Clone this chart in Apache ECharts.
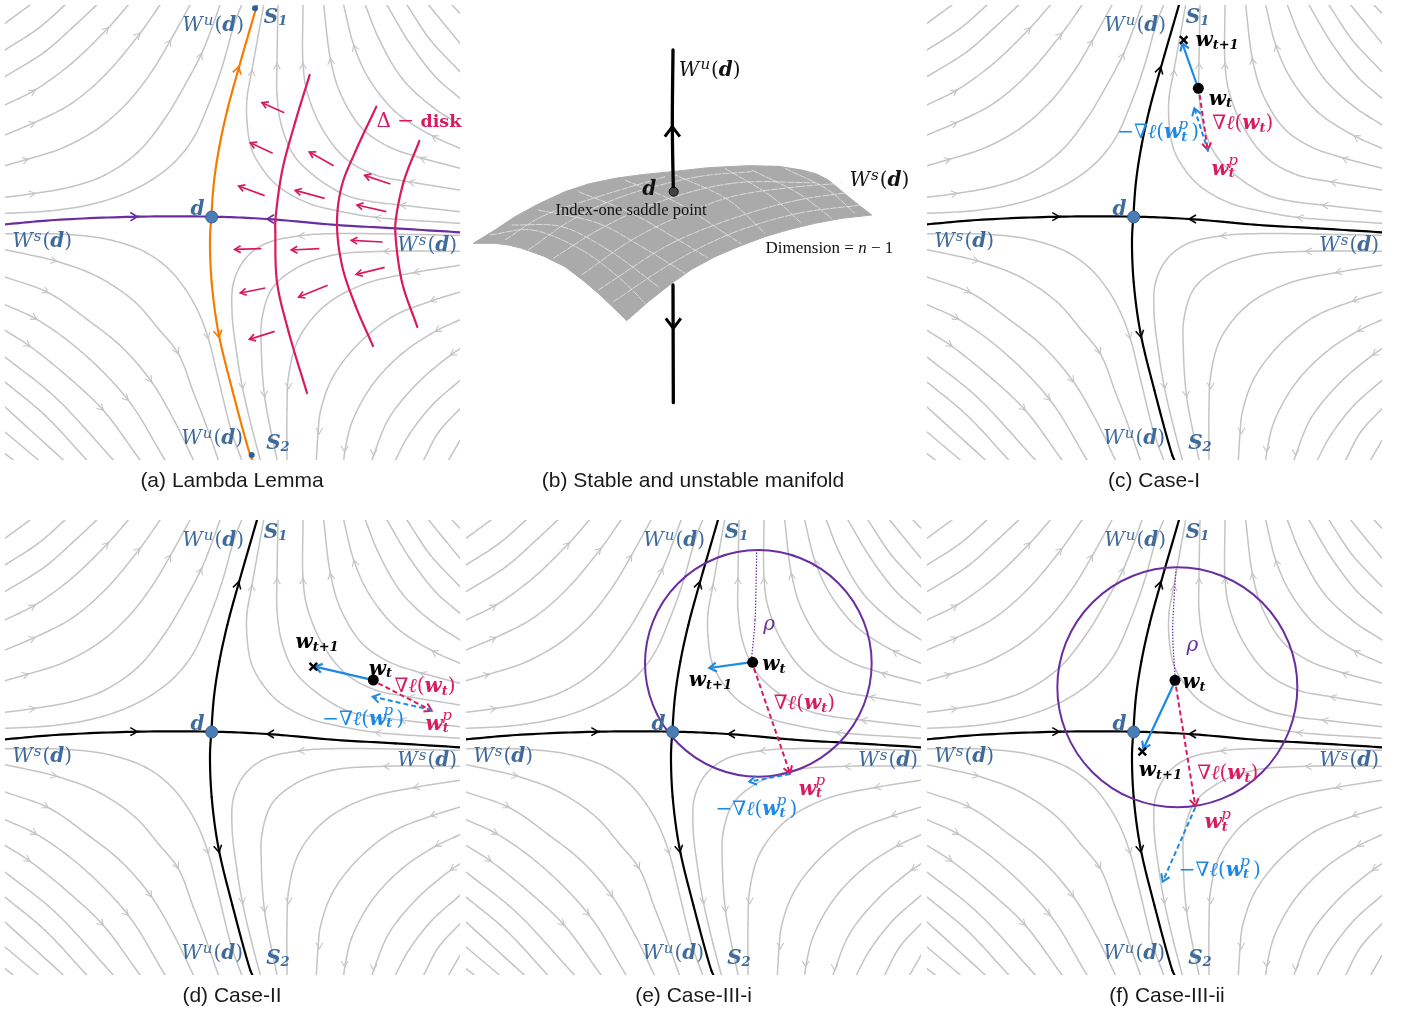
<!DOCTYPE html>
<html><head><meta charset="utf-8">
<style>html,body{margin:0;padding:0;background:#fff}#c{width:1405px;height:1013px}</style>
<script src="https://cdn.jsdelivr.net/npm/echarts@6/dist/echarts.min.js"></script>
</head><body><div id="c"></div>
<script>
// ---------- phase-portrait data (panel units, 3 per pixel) ----------
const upperLeftStreams = [
 [[15,70],[90,15]],
 [[15,150],[115,85],[195,15]],
 [[15,230],[135,155],[215,85],[290,15]],
 [[15,315],[105,270],[215,190],[325,83],[385,15]],
 [[15,405],[105,367],[215,310],[315,225],[420,100],[480,15]],
 [[15,497],[85,477],[185,445],[295,385],[385,305],[455,215],[512,120],[570,15]],
 [[15,592],[105,580],[215,560],[315,525],[415,455],[495,355],[555,255],[605,160],[635,85],[660,15]],
 [[15,640],[145,633],[265,615],[365,585],[455,540],[525,485],[580,415],[625,315],[665,205],[705,65],[725,15]]
];
const upperRightStreams = [
 [[791,15],[756,210],[741,295],[741,365],[754,445],[786,505],[836,560],[926,610],[1026,635],[1126,652],[1380,670]],
 [[834,15],[831,190],[831,285],[844,375],[881,465],[946,530],[1036,585],[1116,605],[1201,615],[1380,635]],
 [[909,15],[909,190],[921,275],[966,385],[1036,475],[1126,525],[1226,545],[1380,570]],
 [[971,15],[991,175],[1021,280],[1086,385],[1166,440],[1261,473],[1380,505]],
 [[1031,15],[1061,135],[1106,235],[1186,335],[1296,407],[1380,445]],
 [[1096,15],[1136,115],[1206,235],[1296,320],[1380,375]],
 [[1161,15],[1226,125],[1306,230],[1380,295]],
 [[1221,15],[1291,120],[1380,215]],
 [[1286,15],[1380,130]],
 [[1356,15],[1380,40]]
];
const lowerLeftStreams = [
 [[15,701],[215,704],[335,721],[435,756],[505,806],[555,866],[595,936],[625,1016],[655,1136],[695,1296],[725,1380]],
 [[15,749],[170,784],[295,831],[405,906],[475,986],[535,1061],[580,1176],[615,1266],[655,1380]],
 [[15,831],[145,878],[265,961],[365,1041],[455,1146],[525,1266],[580,1380]],
 [[15,914],[110,958],[245,1056],[385,1201],[495,1380]],
 [[15,991],[90,1039],[210,1136],[310,1231],[420,1380]],
 [[15,1071],[165,1191],[340,1380]],
 [[15,1146],[135,1246],[260,1380]],
 [[15,1221],[190,1380]],
 [[15,1296],[115,1380]],
 [[15,1361],[40,1380]]
];
const lowerRightStreams = [
 [[1380,706],[996,701],[896,708],[796,731],[736,776],[701,846],[696,936],[711,1066],[728,1166],[756,1286],[781,1380]],
 [[1380,754],[1151,754],[996,766],[886,806],[816,866],[786,956],[784,1046],[794,1191],[831,1380]],
 [[1380,796],[1241,818],[1096,851],[976,916],[896,1016],[866,1126],[861,1226],[861,1380]],
 [[1380,876],[1291,904],[1176,951],[1066,1041],[996,1136],[961,1236],[954,1301],[949,1380]],
 [[1380,959],[1306,994],[1206,1061],[1116,1156],[1056,1266],[1036,1346],[1031,1380]],
 [[1380,1046],[1351,1066],[1256,1146],[1166,1256],[1121,1366],[1116,1380]],
 [[1380,1141],[1296,1216],[1226,1306],[1186,1380]],
 [[1380,1226],[1316,1296],[1271,1380]],
 [[1380,1321],[1346,1380]]
];
const streamArrows = [
 [105,580,1,-.15],[85,477,1,-.3],[105,367,1,-.45],[105,270,1,-.65],[325,83,1,-1],[420,100,1,-1],[512,120,.6,-1],[605,160,.45,-1],
 [756,210,.05,-1],[831,190,0,-1],[909,190,0,-1],[991,175,-.15,-1],[1061,135,-.35,-1],
 [1296,407,-1,-.6],[1261,473,-1,-.4],[1226,545,-1,-.2],[1201,615,-1,-.1],[1126,652,-1,-.15],
 [896,708,-1,.05],[1151,754,-1,0],[1241,818,-1,.2],[1291,904,-1,.4],[1306,994,-1,.6],[1351,1066,-1,.7],
 [728,1166,.1,1],[794,1191,.1,1],[866,1166,0,1],[958,1301,0,1],[1034,1356,0,1],[1121,1366,0,1],
 [170,784,1,.25],[145,878,1,.55],[110,958,1,.6],[90,1039,1,.7],[310,1231,1,1],[385,1201,1,1],[455,1146,.7,1],[535,1061,.5,1],[625,1016,.3,1]
];
const unstableCurve = [[771,15],[716,205],[682,330],[658,440],[642,545],[634,650],[630,720],[635,846],[655,996],[697,1170],[751,1366],[757,1380]];
const stableCurve = [[15,673],[165,660],[415,650],[633,650],[801,657],[1011,675],[1186,685],[1380,697]];
const manifoldArrows = [[412,650,1,0],[801,657,-1,0],[716,200,.27,-1],[657,1012,.2,1]];
const saddlePoint = [635,651];
const disks = [
 [[929,225],[886,365],[846,515],[826,665],[826,696],[831,846],[866,996],[921,1179]],
 [[1129,320],[1066,455],[1026,555],[1011,665],[1026,796],[1066,916],[1119,1038]],
 [[1258,423],[1211,545],[1188,655],[1186,696],[1206,846],[1252,981]]
];
const diskFlow = [
 [853,338,786,308],[818,460,751,428],[794,587,716,558],[784,746,704,748],[796,864,721,879],[824,994,748,1018],
 [1001,497,928,456],[974,595,886,571],[958,746,874,750],[983,856,896,891],
 [1171,552,1094,526],[1159,635,1071,615],[1148,726,1054,721],[1154,802,1069,823]
];
const orbitEnds = [[765,25],[755,1365]];
// per-case vectors: [fromX,fromY,toX,toY]
const caseC = {wt:[829,265],next:[785,120],step:[824,252,781,130],grad:[833,285,857,450],neg:[859,455,817,325]};
const caseD = {wt:[1120,495],next:[940,455],step:[1110,493,945,455],grad:[1135,505,1295,587],neg:[1295,585,1118,545]};
const caseE = {wt:[875,442],next:null,step:[862,443,745,459],grad:[879,460,987,775],neg:[987,777,865,800],
  circle:[892,445,340],radius:[[872,427],[882,315],[887,110]]};
const caseF = {wt:[759,496],next:[661,710],step:[754,510,664,702],grad:[762,515,820,873],neg:[820,877,722,1100],
  circle:[766,517,360],radius:[[759,480],[752,355],[756,255],[762,163]]};
// labels: [kind, x, y]
const sharedLabels = [['Wu',545,78],['Wu',542,1316],['S1',790,52],['S2',797,1330],['d',570,628],['Ws',35,725],['Ws',1190,738]];
const labelsA = [['disk',1128,366]];
const labelsC = [['wt1',819,122],['wt',859,298],['grad',869,371],['ngrad',584,398],['wtp',867,508]];
const labelsD = [['wt1',885,383],['wt',1105,463],['grad',1182,516],['ngrad',965,613],['wtp',1275,628]];
const labelsE = [['wt',902,450],['wt1',682,498],['grad',937,566],['wtp',1012,823],['ngrad',762,883],['rho',905,328]];
const labelsF = [['wt',779,503],['wt1',649,768],['grad',824,776],['wtp',846,923],['ngrad',769,1066],['rho',792,391]];
// panel (b): surface, in units of 3 per pixel
const surfaceOutline = [[25,730],[90,690],[150,650],[220,612],[300,575],[370,552],[450,535],[530,524],[620,515],[730,503],[850,497],[940,499],[1010,510],[1055,522],[1090,540],[1120,565],[1150,590],[1185,618],[1220,645],
 [1130,655],[1050,670],[975,688],[900,710],[825,738],[750,770],[680,808],[620,850],[550,905],[485,962],
 [440,918],[400,880],[350,838],[300,800],[235,768],[170,745],[130,735],[90,730]];
const meshAlong = [
 [[445,905],[620,790],[800,700],[1000,640],[1190,615]],
 [[400,870],[620,730],[820,650],[1000,600],[1170,575]],
 [[350,825],[500,720],[640,650],[800,590],[1000,560],[1130,550]],
 [[265,775],[400,690],[570,610],[800,550],[1050,548]],
 [[190,750],[320,660],[470,590],[700,530],[860,515]],
 [[120,720],[230,650],[400,590],[600,530]]
];
const meshAcross = [
 [[75,705],[200,690],[350,750],[470,840],[545,915]],
 [[140,675],[290,680],[430,750],[580,860]],
 [[220,630],[400,670],[530,740],[660,820]],
 [[340,575],[500,640],[640,720],[730,775]],
 [[480,540],[640,610],[780,700],[830,732]],
 [[620,520],[790,600],[900,700]],
 [[780,505],[920,590],[1010,670]],
 [[860,510],[1000,580],[1100,655]],
 [[960,505],[1090,570],[1170,640]]
];
const stemUp = [[624,150],[622,380],[625,575]];
const stemDown = [[624,855],[625,1208]];
const stemArrows = [[622,380,0,-1],[625,985,0,1]];
const stemPoint = [626,575];
const labelsB = [['WuK',640,211],['WsK',1152,543],['dK',530,568]];
const captions = [['(a) Lambda Lemma',232,471],['(b) Stable and unstable manifold',693,471],['(c) Case-I',1154,471],
 ['(d) Case-II',232,986],['(e) Case-III-i',693.5,986],['(f) Case-III-ii',1167,986]];
// ---------- styles ----------
const GREY='#c4c4c4', BLUE='#3f6b9b', RED='#d81b60', SKY='#1e88e5', PURPLE='#6a2ea0', ORANGE='#f57c00';
const SERIF='"DejaVu Serif"';
const panels=[
 {left:5,top:5},{left:465,top:0,b:true},{left:927,top:5},{left:5,top:520},{left:466,top:520},{left:927,top:520}];
const series=[];
const richFor=c=>({
 i:{fontFamily:SERIF,fontStyle:'italic',fontSize:20,color:c},
 r:{fontFamily:SERIF,fontSize:20,color:c},
 b:{fontFamily:SERIF,fontStyle:'italic',fontWeight:'bold',fontSize:20,color:c},
 sup:{fontFamily:SERIF,fontStyle:'italic',fontSize:15,color:c,padding:[0,1,10,1]},
 sub:{fontFamily:SERIF,fontStyle:'italic',fontWeight:'bold',fontSize:13,color:c,padding:[9,0,0,0]},
 subw:{fontFamily:SERIF,fontStyle:'italic',fontWeight:'bold',fontSize:13,color:c,padding:[9,4,0,0]},
 big:{fontFamily:SERIF,fontWeight:'bold',fontSize:17.5,color:c}
});
const FMT={
 Wu:['{i|W}{sup|u}{r|(}{b|d}{r|)}',BLUE], Ws:['{i|W}{sup|s}{r|(}{b|d}{r|)}',BLUE],
 WuK:['{i|W}{sup|u}{r|(}{b|d}{r|)}','#111'], WsK:['{i|W}{sup|s}{r|(}{b|d}{r|)}','#111'], dK:['{b|d}','#111'],
 S1:['{b|S}{sub|1}',BLUE], S2:['{b|S}{sub|2}',BLUE], d:['{b|d}',BLUE],
 wt:['{b|w}{sub|t}','#000'], wt1:['{b|w}{sub|t+1}','#000'],
 grad:['{i|∇ℓ}{r|(}{b|w}{sub|t}{r|)}',RED], ngrad:['{i|−∇ℓ}{r|(}{b|w}{subw|t}{r|)}',SKY,[181,-9]],
 wtp:['{b|w}{sub|t}',RED,[47,-9]], rho:['{i|ρ}',PURPLE], disk:['{r|Δ − }{big|disk}',RED]
};
function addLabels(g,list){
 const data=[];
 list.forEach(([k,x,y])=>{
  const f=FMT[k];
  data.push({value:[x,y],label:{show:true,position:'right',distance:0,formatter:f[0],rich:richFor(f[1]),color:f[1]}});
  if(f[2]) data.push({value:[x+f[2][0],y+f[2][1]],label:{show:true,position:'right',distance:0,formatter:'{sup|p}',rich:richFor(f[1]),color:f[1]}});
 });
 series.push({type:'scatter',xAxisIndex:g,yAxisIndex:g,symbolSize:1,itemStyle:{color:'transparent',opacity:1},silent:true,clip:false,z:20,data,labelLayout:{hideOverlap:false}});
}
// Smooth curve through the read points: one centripetal Catmull-Rom span per data point.
function span(P,i){
 const n=P.length,a=P[i],b=P[i+1];
 const p0=i>0?P[i-1]:[2*a[0]-b[0],2*a[1]-b[1]], p3=i+2<n?P[i+2]:[2*b[0]-a[0],2*b[1]-a[1]];
 const d=(u,v)=>Math.max(1e-3,Math.sqrt(Math.hypot(u[0]-v[0],u[1]-v[1])));
 const t1=d(p0,a),t2=t1+d(a,b),t3=t2+d(b,p3),out=[];
 const lerp=(u,v,t0,t1,t)=>[u[0]+(v[0]-u[0])*(t-t0)/(t1-t0),u[1]+(v[1]-u[1])*(t-t0)/(t1-t0)];
 for(let s=0;s<=14;s++){
  const t=t1+(t2-t1)*s/14;
  const A1=lerp(p0,a,0,t1,t),A2=lerp(a,b,t1,t2,t),A3=lerp(b,p3,t2,t3,t);
  const B1=lerp(A1,A2,0,t2,t),B2=lerp(A2,A3,t1,t3,t);
  out.push(lerp(B1,B2,t1,t2,t));
 }
 return out;
}
function addLine(g,pts,o){
 series.push({type:'custom',xAxisIndex:g,yAxisIndex:g,data:pts,silent:true,z:o.z||3,animation:false,
  renderItem:(params,api)=>{
   const i=params.dataIndex; if(i>=pts.length-1) return;
   const c=params.coordSys;
   return {type:'polyline',shape:{points:span(pts.map(p=>api.coord(p)),i)},
     style:{stroke:o.color,fill:null,lineWidth:o.width,lineDash:o.dash||null,lineCap:o.dash?'butt':'round',lineJoin:'round'},
     clipPath:{type:'rect',shape:{x:c.x,y:c.y,width:c.width,height:c.height}}};
  }});
}
function head(api,x,y,dx,dy,len,half){
 const p=api.coord([x,y]);const l=Math.hypot(dx,dy)||1;const ux=dx/l,uy=dy/l;
 return [[p[0]-ux*len-uy*half,p[1]-uy*len+ux*half],p,[p[0]-ux*len+uy*half,p[1]-uy*len-ux*half]];
}
function addHeads(g,list,color,lw,len,half,z){
 series.push({type:'custom',xAxisIndex:g,yAxisIndex:g,silent:true,z:z||2,data:list,animation:false,
  renderItem:(_,api)=>({type:'polyline',shape:{points:head(api,api.value(0),api.value(1),api.value(2),api.value(3),len,half)},
    style:{stroke:color,fill:null,lineWidth:lw}})});
}
function addVectors(g,list,o){
 series.push({type:'custom',xAxisIndex:g,yAxisIndex:g,silent:true,z:o.z||8,data:list,animation:false,
  renderItem:(_,api)=>{
   const a=api.coord([api.value(0),api.value(1)]),b=api.coord([api.value(2),api.value(3)]);
   return {type:'group',children:[
    {type:'line',shape:{x1:a[0],y1:a[1],x2:b[0],y2:b[1]},style:{stroke:o.color,lineWidth:o.width,lineDash:o.dash||null}},
    {type:'polyline',shape:{points:head(api,api.value(2),api.value(3),api.value(2)-api.value(0),api.value(3)-api.value(1),o.len||6,o.half||4)},
      style:{stroke:o.color,fill:null,lineWidth:o.width}}]};
  }});
}
function addDots(g,pts,color,size,z,border){
 series.push({type:'scatter',xAxisIndex:g,yAxisIndex:g,symbolSize:size,silent:true,z:z||10,data:pts,animation:false,clip:false,
  itemStyle:{color,borderColor:border||color,borderWidth:border?1:0,opacity:1}});
}
function addCross(g,pt){
 series.push({type:'custom',xAxisIndex:g,yAxisIndex:g,silent:true,z:11,data:[pt],animation:false,
  renderItem:(_,api)=>{const p=api.coord([api.value(0),api.value(1)]),r=3.8;return {type:'group',children:[
   {type:'line',shape:{x1:p[0]-r,y1:p[1]-r,x2:p[0]+r,y2:p[1]+r},style:{stroke:'#000',lineWidth:2.4}},
   {type:'line',shape:{x1:p[0]-r,y1:p[1]+r,x2:p[0]+r,y2:p[1]-r},style:{stroke:'#000',lineWidth:2.4}}]};}});
}
function addCircle(g,c){
 series.push({type:'custom',xAxisIndex:g,yAxisIndex:g,silent:true,z:7,data:[c],animation:false,
  renderItem:(_,api)=>{const p=api.coord([api.value(0),api.value(1)]),q=api.coord([api.value(0)+api.value(2),api.value(1)]);
   return {type:'circle',shape:{cx:p[0],cy:p[1],r:q[0]-p[0]},style:{stroke:PURPLE,fill:null,lineWidth:2}};}});
}
function portrait(g,uColor,sColor,w){
 [upperLeftStreams,upperRightStreams,lowerLeftStreams,lowerRightStreams].forEach(set=>set.forEach(s=>addLine(g,s,{color:GREY,width:1.5,z:1})));
 addHeads(g,streamArrows,GREY,1.1,6,3.4,2);
 addLine(g,unstableCurve,{color:uColor,width:w,z:4});
 addLine(g,stableCurve,{color:sColor,width:w,z:5});
 addDots(g,[saddlePoint],'#4a7db8',12,12,'#38628f');
 addLabels(g,sharedLabels);
}
// panel a
portrait(0,ORANGE,PURPLE,2.2);
addHeads(0,manifoldArrows.slice(0,2),PURPLE,1.7,7,4.2,6);
addHeads(0,manifoldArrows.slice(2),ORANGE,1.7,7,4.2,6);
disks.forEach(d=>addLine(0,d,{color:RED,width:2.2,z:6}));
addVectors(0,diskFlow,{color:RED,width:1.7,len:6,half:3.5,z:7});
addDots(0,orbitEnds,'#2e6096',6,9);
addLabels(0,labelsA);
// panels c..f
[[2,caseC,labelsC],[3,caseD,labelsD],[4,caseE,labelsE],[5,caseF,labelsF]].forEach(([g,cs,lab])=>{
 portrait(g,'#000','#000',2.2);
 addHeads(g,manifoldArrows,'#000',1.5,7,4,6);
 if(cs.circle) addCircle(g,cs.circle);
 if(cs.radius) addLine(g,cs.radius,{color:PURPLE,width:1.2,dash:[1.5,1.5],z:7});
 addVectors(g,[cs.grad],{color:RED,width:2,dash:[5,3],len:7,half:4.5,z:8});
 addVectors(g,[cs.neg],{color:SKY,width:2,dash:[5,3],len:7,half:4.5,z:9});
 addVectors(g,[cs.step],{color:SKY,width:2.2,len:7,half:4.5,z:10});
 addDots(g,[cs.wt],'#000',11,11);
 if(cs.next) addCross(g,cs.next);
 addLabels(g,lab);
});
// panel b
series.push({type:'custom',xAxisIndex:1,yAxisIndex:1,silent:true,z:1,animation:false,data:[0],
 renderItem:(_,api)=>({type:'polygon',shape:{points:surfaceOutline.map(p=>api.coord(p)),smooth:0},style:{fill:'#aaaaaa',stroke:'#aaaaaa',lineWidth:1}})});
meshAlong.concat(meshAcross).forEach(m=>addLine(1,m,{color:'rgba(240,240,240,0.7)',width:1,z:2,dash:[7,1]}));
addLine(1,stemUp,{color:'#000',width:3.3,z:3});
addLine(1,stemDown,{color:'#000',width:3.3,z:3});
addHeads(1,stemArrows,'#000',3,10,7.5,4);
addDots(1,[stemPoint],'#444',9,5,'#000');
addLabels(1,labelsB);
series.push({type:'scatter',xAxisIndex:1,yAxisIndex:1,symbolSize:1,itemStyle:{color:'transparent',opacity:1},silent:true,z:20,clip:false,data:[
 {value:[270,632],label:{show:true,position:'right',distance:0,formatter:'Index-one saddle point',fontFamily:'Liberation Serif',fontSize:16.5,color:'#111'}},
 {value:[900,745],label:{show:true,position:'right',distance:0,formatter:'Dimension = {n|n} − 1',fontFamily:'Liberation Serif',fontSize:17,color:'#111',
   rich:{n:{fontFamily:'Liberation Serif',fontStyle:'italic',fontSize:17,color:'#111'}}}}
]});
const grid=panels.map(p=>p.b?{left:p.left,top:p.top,width:460,height:495}:{left:p.left,top:p.top,width:455,height:455});
const xAxis=panels.map((p,i)=>({gridIndex:i,type:'value',show:false,min:p.b?0:15,max:1380}));
const yAxis=panels.map((p,i)=>({gridIndex:i,type:'value',show:false,inverse:true,min:p.b?0:15,max:p.b?1485:1380}));
const title=captions.map(([t,x,y])=>({text:t,left:x,top:y,textAlign:'center',padding:0,
  textStyle:{fontFamily:'Liberation Sans',fontSize:21,fontWeight:'normal',color:'#1a1a1a'}}));
const chart=echarts.init(document.getElementById('c'),null,{renderer:'canvas'});
chart.setOption({animation:false,backgroundColor:'#fff',title,grid,xAxis,yAxis,series});
</script></body></html>
